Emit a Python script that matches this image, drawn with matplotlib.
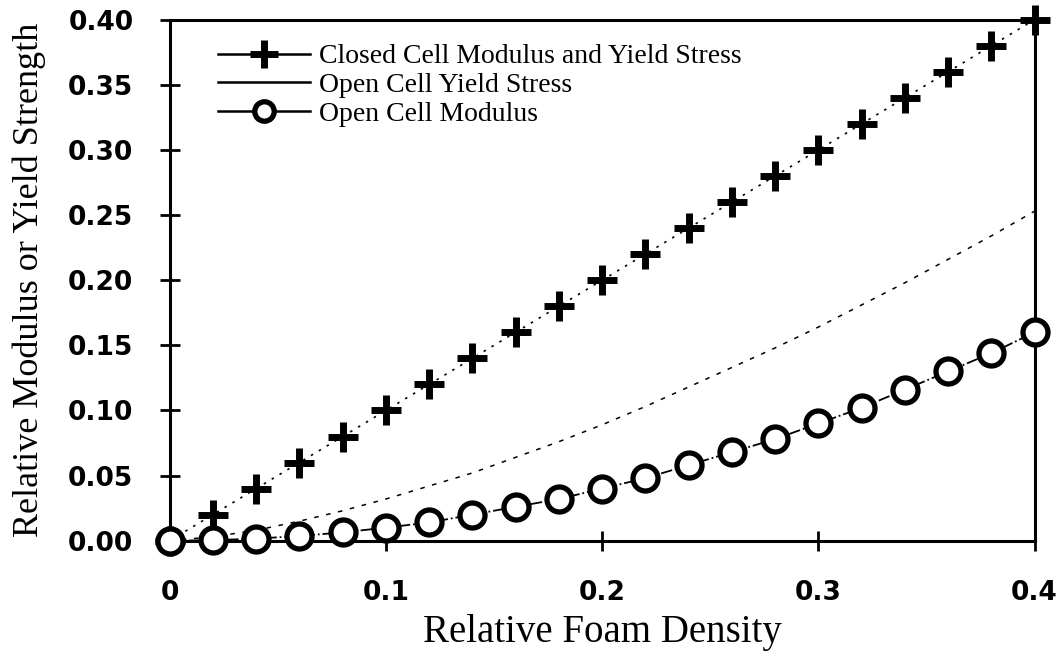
import matplotlib
matplotlib.use("Agg")
import matplotlib.pyplot as plt
from matplotlib.lines import Line2D

# relative foam density values
density = [0.00, 0.02, 0.04, 0.06, 0.08, 0.10, 0.12, 0.14, 0.16, 0.18, 0.20,
           0.22, 0.24, 0.26, 0.28, 0.30, 0.32, 0.34, 0.36, 0.38, 0.40]
# closed cell modulus / yield stress
closed_cell = [0.00, 0.02, 0.04, 0.06, 0.08, 0.10, 0.12, 0.14, 0.16, 0.18, 0.20,
               0.22, 0.24, 0.26, 0.28, 0.30, 0.32, 0.34, 0.36, 0.38, 0.40]
# open cell yield stress
open_yield = [0.000, 0.003, 0.008, 0.015, 0.023, 0.032, 0.042, 0.052, 0.064, 0.076, 0.089,
              0.103, 0.118, 0.133, 0.148, 0.164, 0.181, 0.198, 0.216, 0.234, 0.253]
# open cell modulus
open_modulus = [0.000, 0.0004, 0.0016, 0.0036, 0.0064, 0.010, 0.014, 0.020, 0.026, 0.032, 0.040,
                0.048, 0.058, 0.068, 0.078, 0.090, 0.102, 0.116, 0.130, 0.144, 0.160]

xticks = [0, 0.1, 0.2, 0.3, 0.4]
xtick_labels = ["0", "0.1", "0.2", "0.3", "0.4"]
yticks = [0.0, 0.05, 0.10, 0.15, 0.20, 0.25, 0.30, 0.35, 0.40]
ytick_labels = ["0.00", "0.05", "0.10", "0.15", "0.20", "0.25", "0.30", "0.35", "0.40"]
labels = ["Closed Cell Modulus and Yield Stress", "Open Cell Yield Stress", "Open Cell Modulus"]

serif = "Liberation Serif"

fig = plt.figure(figsize=(10.6, 6.57), dpi=100)
ax = fig.add_axes([0.160, 0.177, 0.816, 0.793])

# closed cell: dotted line + thick crosses
ax.plot(density, closed_cell, color="black", linestyle=(0, (1.5, 4)), linewidth=1.2, zorder=3)
ax.plot(density, closed_cell, color="black", linestyle="none", marker="+",
        markersize=21, markeredgewidth=5, clip_on=False, zorder=4)
# open cell yield stress: thin sparse dashes
ax.plot(density, open_yield, color="black", linestyle=(0, (3, 5)), linewidth=1.1, zorder=3)
# open cell modulus: dash-dot line with open circles
ax.plot(density, open_modulus, color="black", linestyle="-.", linewidth=1.3,
        marker="o", markersize=18, markerfacecolor="white", markeredgewidth=3.8,
        clip_on=False, zorder=5)

ax.set_xlim(0, 0.4)
ax.set_ylim(0, 0.4)
ax.set_xticks(xticks)
ax.set_xticklabels(xtick_labels)
ax.set_yticks(yticks)
ax.set_yticklabels(ytick_labels)
ax.tick_params(direction="inout", length=14, width=2, labelsize=19)
ax.tick_params(axis="x", pad=21)
ax.tick_params(axis="y", pad=19)
for lab in ax.get_xticklabels() + ax.get_yticklabels():
    lab.set_fontweight("bold")

for side in ["left", "bottom", "top", "right"]:
    ax.spines[side].set_linewidth(2.2)

ax.set_xlabel("Relative Foam Density", fontsize=28, family=serif, labelpad=6)
ax.set_ylabel("Relative Modulus or Yield Strength", fontsize=26, family=serif, labelpad=16)

# legend handles with line + marker combined
handles = [
    Line2D([], [], color="black", linewidth=1.8, marker="+", markersize=20, markeredgewidth=5),
    Line2D([], [], color="black", linewidth=1.8),
    Line2D([], [], color="black", linewidth=1.8, marker="o", markersize=14,
           markerfacecolor="white", markeredgewidth=3.8),
]
ax.legend(handles, labels, loc="upper left", bbox_to_anchor=(0.043, 0.975), frameon=False,
          prop={"family": serif, "size": 20}, handlelength=3.3, handletextpad=0.35,
          labelspacing=0.12, borderaxespad=0)

fig.savefig("out.png", dpi=100)
